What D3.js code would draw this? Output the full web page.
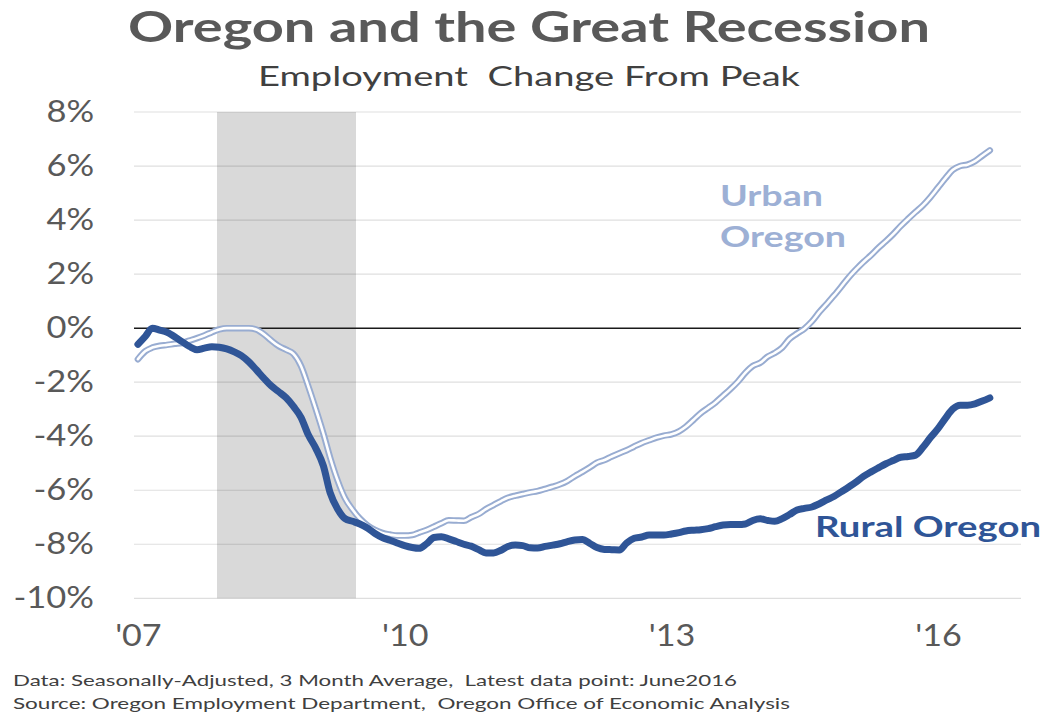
<!DOCTYPE html>
<html>
<head>
<meta charset="utf-8">
<script src="https://cdn.jsdelivr.net/npm/d3@7"></script>
<style>
  html, body { margin: 0; padding: 0; background: #fff; }
  svg { display: block; font-family: Lato, "Open Sans", sans-serif; }
</style>
</head>
<body>
<svg id="chart" width="1044" height="717"></svg>
<script>
// Employment change from pre-recession peak, % (monthly, starting Jan 2007)
const ruralOregon = [
  -0.60, -0.30, 0.00, -0.07, -0.15, -0.32, -0.50, -0.68, -0.80, -0.74, -0.69, -0.71,
  -0.77, -0.88, -1.02, -1.25, -1.54, -1.85, -2.13, -2.35, -2.58, -2.90, -3.30, -3.95,
  -4.45, -5.10, -6.10, -6.70, -7.05, -7.15, -7.25, -7.40, -7.60, -7.75, -7.85, -7.95,
  -8.05, -8.12, -8.15, -7.98, -7.75, -7.72, -7.80, -7.90, -8.00, -8.07, -8.20, -8.32,
  -8.32, -8.22, -8.08, -8.03, -8.05, -8.13, -8.14, -8.08, -8.03, -7.98, -7.90, -7.84,
  -7.82, -7.97, -8.12, -8.19, -8.20, -8.21, -7.95, -7.78, -7.73, -7.66, -7.66, -7.66,
  -7.62, -7.57, -7.51, -7.48, -7.46, -7.42, -7.35, -7.29, -7.27, -7.27, -7.25, -7.12,
  -7.06, -7.12, -7.15, -7.05, -6.90, -6.73, -6.67, -6.62, -6.50, -6.36, -6.22, -6.05,
  -5.87, -5.68, -5.49, -5.32, -5.17, -5.02, -4.90, -4.78, -4.75, -4.70, -4.40, -4.05,
  -3.72, -3.33, -3.00, -2.85, -2.85, -2.80, -2.70, -2.58
];
const urbanOregon = [
  -1.15, -0.85, -0.72, -0.65, -0.62, -0.58, -0.55, -0.46, -0.37, -0.27, -0.15, -0.05,
  0.00, 0.00, 0.00, 0.00, -0.05, -0.22, -0.45, -0.66, -0.80, -0.95, -1.40, -2.15,
  -3.00, -3.90, -4.80, -5.65, -6.30, -6.72, -7.05, -7.30, -7.47, -7.58, -7.64, -7.68,
  -7.68, -7.66, -7.57, -7.47, -7.35, -7.22, -7.11, -7.12, -7.13, -7.00, -6.88, -6.70,
  -6.55, -6.40, -6.28, -6.20, -6.14, -6.08, -6.03, -5.95, -5.87, -5.78, -5.65, -5.48,
  -5.32, -5.15, -4.98, -4.88, -4.75, -4.63, -4.52, -4.38, -4.25, -4.15, -4.05, -3.98,
  -3.93, -3.82, -3.65, -3.40, -3.15, -2.95, -2.75, -2.50, -2.25, -1.98, -1.65, -1.40,
  -1.28, -1.05, -0.92, -0.72, -0.40, -0.20, -0.02, 0.25, 0.60, 0.90, 1.22, 1.55,
  1.90, 2.20, 2.45, 2.70, 2.97, 3.22, 3.48, 3.78, 4.05, 4.30, 4.55, 4.85,
  5.20, 5.55, 5.85, 6.00, 6.05, 6.18, 6.38, 6.58
];
const yTicks = [8, 6, 4, 2, 0, -2, -4, -6, -8, -10];
const xTickYears = [2007, 2010, 2013, 2016];
const recession = [new Date(2007, 10, 22), new Date(2009, 5, 15)];

const titleText = "Oregon and the Great Recession";
const subtitleText = "Employment  Change From Peak";
const footnotes = [
  "Data: Seasonally-Adjusted, 3 Month Average,  Latest data point: June2016",
  "Source: Oregon Employment Department,  Oregon Office of Economic Analysis"
];

const svg = d3.select("#chart");
const plot = { left: 134, right: 1021, top: 112, bottom: 598.3 };

const x = d3.scaleTime()
  .domain([new Date(2006, 11, 16), new Date(2016, 11, 7)])
  .range([plot.left, plot.right]);
const y = d3.scaleLinear().domain([-10, 8]).range([plot.bottom, plot.top]);

const months = ruralOregon.map((_, i) => new Date(2007, i, 1));

svg.append("rect").attr("width", 1044).attr("height", 717).attr("fill", "#fff");

// Recession shading
svg.append("rect")
  .attr("x", x(recession[0]))
  .attr("y", plot.top)
  .attr("width", x(recession[1]) - x(recession[0]))
  .attr("height", plot.bottom - plot.top)
  .attr("fill", "#d9d9d9");

// Horizontal gridlines
svg.append("g").selectAll("line")
  .data(yTicks.filter(d => d !== 0))
  .join("line")
  .attr("x1", plot.left).attr("x2", plot.right)
  .attr("y1", d => y(d)).attr("y2", d => y(d))
  .attr("stroke", "rgba(0,0,0,0.13)")
  .attr("stroke-width", 1.2);

// Zero line
svg.append("line")
  .attr("x1", plot.left).attr("x2", plot.right)
  .attr("y1", y(0)).attr("y2", y(0))
  .attr("stroke", "#1a1a1a").attr("stroke-width", 1.5);

// Y axis labels (slightly widened glyphs)
const yStretch = 1.15;
const yAxis = svg.append("g")
  .attr("transform", `translate(${plot.left},0)`)
  .call(d3.axisLeft(y).tickValues(yTicks).tickFormat(d => d + "%")
    .tickSize(0).tickPadding(40 / yStretch));
yAxis.select(".domain").remove();
yAxis.selectAll("text")
  .attr("transform", `scale(${yStretch},1)`)
  .attr("fill", "#595959")
  .style("font-size", "30px")
  .style("font-family", "Lato, sans-serif");

// X axis labels
const xAxis = svg.append("g")
  .attr("transform", `translate(0,${plot.bottom})`)
  .call(d3.axisBottom(x)
    .tickValues(xTickYears.map(yr => new Date(yr, 0, 1)))
    .tickFormat(d => "'" + d3.timeFormat("%y")(d))
    .tickSize(0).tickPadding(26));
xAxis.select(".domain").remove();
xAxis.selectAll("text")
  .attr("transform", "scale(1.1,1)")
  .attr("fill", "#595959")
  .style("font-size", "31px")
  .style("font-family", "Lato, sans-serif");

const line = d3.line()
  .x((d, i) => x(months[i]))
  .y(d => y(d))
  .curve(d3.curveMonotoneX);

// Urban series: light outlined line
svg.append("path")
  .attr("d", line(urbanOregon))
  .attr("fill", "none")
  .attr("stroke", "#98acd1")
  .attr("stroke-width", 6.5)
  .attr("stroke-linejoin", "round")
  .attr("stroke-linecap", "round");
svg.append("path")
  .attr("d", line(urbanOregon))
  .attr("fill", "none")
  .attr("stroke", "#ffffff")
  .attr("stroke-width", 2.6)
  .attr("stroke-linejoin", "round")
  .attr("stroke-linecap", "round");

// Rural series: heavy dark line
svg.append("path")
  .attr("d", line(ruralOregon))
  .attr("fill", "none")
  .attr("stroke", "#2f5597")
  .attr("stroke-width", 7)
  .attr("stroke-linejoin", "round")
  .attr("stroke-linecap", "round");

// Series labels
const seriesLabels = [
  { text: "Urban", x: 720, y: 206, width: 103, color: "#9db0d5", size: 29 },
  { text: "Oregon", x: 720, y: 247, width: 126, color: "#9db0d5", size: 29 },
  { text: "Rural Oregon", x: 815, y: 537, width: 226, color: "#2f5597", size: 28 }
];
svg.append("g").selectAll("text")
  .data(seriesLabels)
  .join("text")
  .attr("x", d => d.x).attr("y", d => d.y)
  .attr("fill", d => d.color)
  .attr("textLength", d => d.width).attr("lengthAdjust", "spacingAndGlyphs")
  .style("font-size", d => d.size + "px").style("font-weight", "bold")
  .text(d => d.text);

// Titles
svg.append("text")
  .attr("x", 128).attr("y", 42)
  .attr("fill", "#595959")
  .attr("textLength", 802).attr("lengthAdjust", "spacingAndGlyphs")
  .style("font-size", "42px").style("font-weight", "bold")
  .text(titleText);

svg.append("text")
  .attr("x", 258).attr("y", 86)
  .attr("fill", "#404040")
  .attr("textLength", 542).attr("lengthAdjust", "spacingAndGlyphs")
  .style("font-size", "27px")
  .style("white-space", "pre")
  .text(subtitleText);

// Footnotes
svg.append("g").selectAll("text")
  .data(footnotes)
  .join("text")
  .attr("x", 13)
  .attr("y", (d, i) => 686 + i * 23)
  .attr("fill", "#404040")
  .attr("textLength", (d, i) => i === 0 ? 724 : 777)
  .attr("lengthAdjust", "spacingAndGlyphs")
  .style("font-size", "16px")
  .style("white-space", "pre")
  .text(d => d);
</script>
</body>
</html>
